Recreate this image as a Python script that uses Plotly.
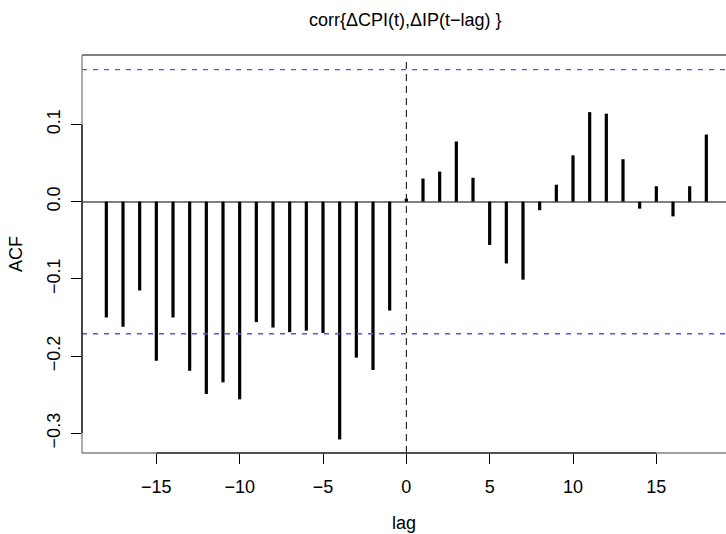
import plotly.graph_objects as go

lags = list(range(-18, 19))
acf = [-0.150, -0.162, -0.115, -0.206, -0.150, -0.219, -0.249, -0.234, -0.256,
       -0.156, -0.163, -0.169, -0.167, -0.170, -0.308, -0.202, -0.218, -0.141,
       0.004,
       0.030, 0.039, 0.078, 0.031, -0.056, -0.080, -0.101, -0.011, 0.022,
       0.060, 0.116, 0.114, 0.055, -0.009, 0.020, -0.019, 0.020, 0.087]
ci = 0.171
x_ticks = [-15, -10, -5, 0, 5, 10, 15]
y_ticks = [-0.3, -0.2, -0.1, 0.0, 0.1]
y_tick_text = ["\u22120.3", "\u22120.2", "\u22120.1", "0.0", "0.1"]
x_tick_text = ["\u221215", "\u221210", "\u22125", "0", "5", "10", "15"]
title = "corr{\u0394CPI(t),\u0394IP(t\u2212lag) }"

FONT = "Liberation Sans, Arial, sans-serif"

xs, ys = [], []
for l, v in zip(lags, acf):
    xs += [l, l, None]
    ys += [0, v, None]

fig = go.Figure()
fig.add_trace(go.Scatter(x=xs, y=ys, mode="lines",
                         line=dict(color="black", width=3.2),
                         hoverinfo="skip", showlegend=False))

xr = [-19.46, 19.18]
yr = [-0.3255, 0.190]

shapes = []
# confidence bands
for c in (ci, -ci):
    shapes.append(dict(type="line", xref="paper", yref="y", x0=0, x1=1, y0=c, y1=c,
                       line=dict(color="#5050ff", width=1.4, dash="5px,6px"), layer="above"))
# vertical dashed line at lag 0
shapes.append(dict(type="line", xref="x", yref="paper", x0=0, x1=0, y0=0, y1=0.99,
                   line=dict(color="black", width=1, dash="7px,5px"), layer="above"))
# frame (gray)
shapes.append(dict(type="line", xref="paper", yref="paper", x0=0, x1=1, y0=1, y1=1,
                   line=dict(color="#808080", width=1.8)))
shapes.append(dict(type="line", xref="paper", yref="paper", x0=0, x1=0, y0=0, y1=1,
                   line=dict(color="#808080", width=1.3)))
shapes.append(dict(type="line", xref="paper", yref="paper", x0=0, x1=1, y0=0, y1=0,
                   line=dict(color="#808080", width=1.3)))
# axis lines (black, over tick range)
shapes.append(dict(type="line", xref="x", yref="paper", x0=x_ticks[0], x1=x_ticks[-1], y0=0, y1=0,
                   line=dict(color="black", width=1.2)))
shapes.append(dict(type="line", xref="paper", yref="y", x0=0, x1=0, y0=y_ticks[0], y1=y_ticks[-1],
                   line=dict(color="black", width=1.2)))

fig.update_layout(
    width=726, height=534,
    margin=dict(l=82, r=0, t=55, b=81),
    paper_bgcolor="white", plot_bgcolor="white",
    font=dict(family=FONT, size=18, color="black"),
    shapes=shapes,
    annotations=[dict(text=title, xref="paper", yref="paper", x=0.503, y=1,
                      yshift=35, xanchor="center", yanchor="middle",
                      showarrow=False, font=dict(family=FONT, size=18, color="black"))],
    xaxis=dict(range=xr, tickvals=x_ticks, ticktext=x_tick_text, ticks="outside",
               ticklen=10, tickwidth=1, tickcolor="black", showline=False,
               showgrid=False, zeroline=False, ticklabelstandoff=7,
               title=dict(text="lag", standoff=20, font=dict(size=18))),
    yaxis=dict(range=yr, tickvals=y_ticks, ticktext=y_tick_text, ticks="outside",
               ticklen=10, tickwidth=1, tickcolor="black", showline=False,
               showgrid=False, zeroline=True, zerolinecolor="#808080", zerolinewidth=2,
               tickangle=-90, ticklabelstandoff=4,
               title=dict(text="ACF", standoff=16, font=dict(size=18))),
)

fig.write_html("out.html")
